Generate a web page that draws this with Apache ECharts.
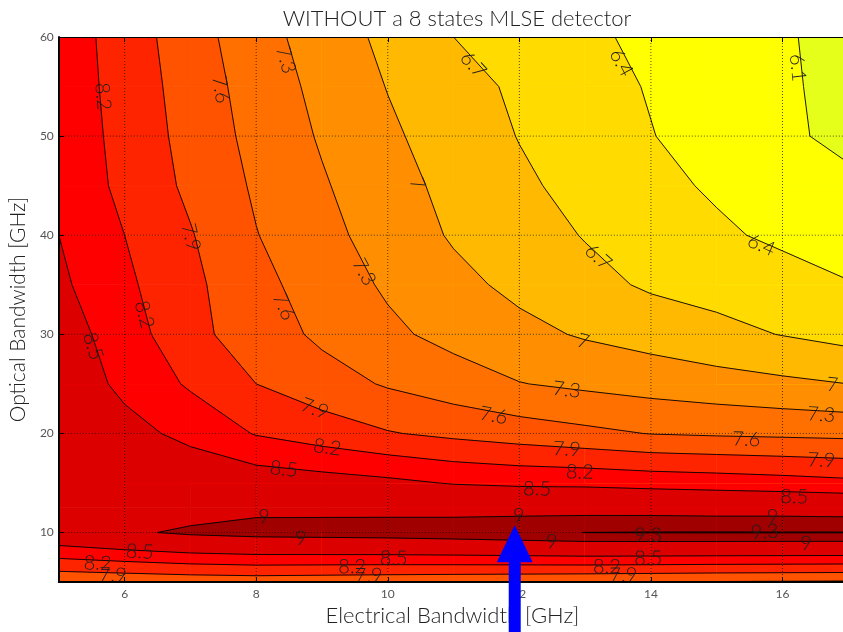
<!DOCTYPE html>
<html>
<head>
<meta charset="utf-8">
<script src="https://cdn.jsdelivr.net/npm/echarts@6.0.0/dist/echarts.min.js"></script>
<style>
  html, body { margin: 0; padding: 0; background: #fff; }
  #main { width: 843px; height: 632px; }
</style>
</head>
<body>
<div id="main"></div>
<script>
// measurement grid: electrical bandwidth (x) by optical bandwidth (y)
const xNodes = [5, 6, 7, 8, 9, 10, 11, 12, 13, 14, 15, 16, 17];
const yNodes = [5, 10, 12.5, 15, 20, 25, 30, 35, 40, 45, 50, 55, 60];

// values, one row per optical bandwidth
const zY5   = [7.65, 7.67, 7.70, 7.72, 7.70, 7.68, 7.66, 7.64, 7.62, 7.60, 7.58, 7.57, 7.56];
const zY10  = [8.80, 8.94, 9.06, 9.12, 9.14, 9.16, 9.20, 9.25, 9.302, 9.31, 9.312, 9.31, 9.31];
const zY125 = [8.83, 8.85, 8.84, 8.92, 8.91, 8.90, 8.875, 8.87, 8.865, 8.86, 8.84, 8.84, 8.82];
const zY15  = [8.85, 8.75, 8.72, 8.68, 8.63, 8.57, 8.48, 8.44, 8.43, 8.39, 8.36, 8.32, 8.27];
const zY20  = [8.80, 8.60, 8.42, 8.18, 8.05, 7.92, 7.83, 7.75, 7.67, 7.59, 7.56, 7.54, 7.52];
const zY25  = [8.71, 8.43, 8.16, 7.90, 7.73, 7.57, 7.44, 7.31, 7.24, 7.18, 7.12, 7.06, 7.00];
const zY30  = [8.65, 8.35, 7.98, 7.76, 7.54, 7.36, 7.21, 7.08, 6.97, 6.88, 6.78, 6.69, 6.60];
const zY35  = [8.56, 8.26, 7.97, 7.69, 7.46, 7.26, 7.08, 6.93, 6.79, 6.66, 6.60, 6.53, 6.42];
const zY40  = [8.50, 8.20, 7.92, 7.61, 7.39, 7.17, 6.97, 6.83, 6.685, 6.57, 6.45, 6.34, 6.22];
const zY45  = [8.43, 8.125, 7.84, 7.56, 7.33, 7.11, 6.92, 6.75, 6.61, 6.48, 6.36, 6.27, 6.16];
const zY50  = [8.41, 8.10, 7.80, 7.51, 7.27, 7.05, 6.86, 6.69, 6.55, 6.41, 6.28, 6.15, 6.03];
const zY55  = [8.39, 8.08, 7.77, 7.47, 7.22, 6.99, 6.81, 6.65, 6.51, 6.38, 6.26, 6.14, 6.015];
const zY60  = [8.38, 8.06, 7.73, 7.42, 7.16, 6.93, 6.70, 6.575, 6.45, 6.34, 6.23, 6.13, 6.005];
const zRows = [zY5, zY10, zY125, zY15, zY20, zY25, zY30, zY35, zY40, zY45, zY50, zY55, zY60];

const levels = [6.1, 6.4, 6.7, 7, 7.3, 7.6, 7.9, 8.2, 8.5, 9, 9.3];
const xTicks = [6, 8, 10, 12, 14, 16];
const yTicks = [10, 20, 30, 40, 50, 60];

// contour labels: [x, y, level]
const contourLabels = [
  [5.67, 54.0, 8.2], [7.46, 54.7, 7.6], [8.45, 57.7, 7.3], [11.30, 57.2, 6.7],
  [13.55, 57.4, 6.4], [16.23, 56.9, 6.1], [10.45, 45.2, 7], [7.01, 39.8, 7.9],
  [6.30, 32.0, 8.2], [5.52, 28.8, 8.5], [8.42, 32.8, 7.6], [9.64, 36.3, 7.3],
  [13.2, 37.8, 6.7], [15.68, 39.0, 6.4], [12.97, 29.3, 7], [12.72, 24.4, 7.3],
  [16.76, 24.9, 7], [16.59, 21.9, 7.3], [11.61, 21.8, 7.6], [15.45, 19.4, 7.6],
  [8.89, 22.5, 7.9], [12.72, 18.4, 7.9], [16.59, 17.3, 7.9], [9.08, 18.6, 8.2],
  [12.92, 16.1, 8.2], [8.42, 16.4, 8.5], [12.27, 14.4, 8.5], [16.18, 13.6, 8.5],
  [8.12, 11.6, 9], [11.99, 11.7, 9], [15.85, 11.6, 9], [8.68, 9.4, 9],
  [12.49, 9.06, 9], [16.36, 8.9, 9], [13.96, 9.73, 9.3], [15.73, 10.07, 9.3],
  [6.23, 8.06, 8.5], [10.09, 7.4, 8.5], [13.96, 7.4, 8.5], [5.59, 6.9, 8.2],
  [9.46, 6.55, 8.2], [13.33, 6.55, 8.2], [5.82, 5.7, 7.9], [9.71, 5.65, 7.9],
  [13.58, 5.7, 7.9]
];

const arrowTip = [11.93, 10.74];

const bandColors = ['#e5ff1a', '#ffff00', '#ffdb00', '#ffb900', '#ff8e00', '#ff7000',
  '#ff5300', '#ff2400', '#ff0000', '#dc0000', '#a00000', '#8c0000'];
const textFont = "Lato, 'Open Sans', 'DejaVu Sans', sans-serif";

// cells of the grid
const cells = [];
for (let j = 0; j < yNodes.length - 1; j++) {
  for (let i = 0; i < xNodes.length - 1; i++) {
    cells.push([xNodes[i], yNodes[j], i, j]);
  }
}

function cellCorners(api, i, j) {
  return [[i, j], [i + 1, j], [i + 1, j + 1], [i, j + 1]].map(function (ab) {
    const p = api.coord([xNodes[ab[0]], yNodes[ab[1]]]);
    return [p[0], p[1], zRows[ab[1]][ab[0]]];
  });
}

function clipAbove(poly, L) {
  const out = [];
  for (let k = 0; k < poly.length; k++) {
    const a = poly[k], b = poly[(k + 1) % poly.length];
    const ain = a[2] >= L, bin = b[2] >= L;
    if (ain) out.push(a);
    if (ain !== bin) {
      const t = (L - a[2]) / (b[2] - a[2]);
      out.push([a[0] + t * (b[0] - a[0]), a[1] + t * (b[1] - a[1]), L]);
    }
  }
  return out;
}

function levelSegments(c, L) {
  const st = c.map(function (p) { return p[2] >= L; });
  const pts = [];
  for (let k = 0; k < 4; k++) {
    const a = c[k], b = c[(k + 1) % 4];
    if (st[k] !== st[(k + 1) % 4]) {
      const t = (L - a[2]) / (b[2] - a[2]);
      pts.push([a[0] + t * (b[0] - a[0]), a[1] + t * (b[1] - a[1])]);
    }
  }
  if (pts.length === 2) return [[pts[0], pts[1]]];
  if (pts.length === 4) {
    return st[0] ? [[pts[0], pts[1]], [pts[2], pts[3]]] : [[pts[3], pts[0]], [pts[1], pts[2]]];
  }
  return [];
}

function findCell(arr, v) {
  for (let k = 0; k < arr.length - 2; k++) if (v < arr[k + 1]) return k;
  return arr.length - 2;
}

function zAt(x, y) {
  const i = findCell(xNodes, x), j = findCell(yNodes, y);
  const tx = (x - xNodes[i]) / (xNodes[i + 1] - xNodes[i]);
  const ty = (y - yNodes[j]) / (yNodes[j + 1] - yNodes[j]);
  const z00 = zRows[j][i], z10 = zRows[j][i + 1], z01 = zRows[j + 1][i], z11 = zRows[j + 1][i + 1];
  return (1 - ty) * ((1 - tx) * z00 + tx * z10) + ty * ((1 - tx) * z01 + tx * z11);
}

function renderFill(params, api) {
  const c = cellCorners(api, api.value(2), api.value(3));
  const zmin = Math.min(c[0][2], c[1][2], c[2][2], c[3][2]);
  let b0 = levels.filter(function (l) { return l <= zmin; }).length;
  const children = [];
  const poly2el = function (poly, color) {
    return {
      type: 'polygon',
      shape: { points: poly.map(function (p) { return [p[0], p[1]]; }) },
      style: { fill: color, stroke: color, lineWidth: 0.7 }
    };
  };
  children.push(poly2el(c, bandColors[b0]));
  let poly = c;
  for (let b = b0; b < levels.length; b++) {
    poly = clipAbove(poly, levels[b]);
    if (poly.length < 3) break;
    children.push(poly2el(poly, bandColors[b + 1]));
  }
  return { type: 'group', children: children };
}

function renderLines(params, api) {
  const c = cellCorners(api, api.value(2), api.value(3));
  const children = [];
  levels.forEach(function (L) {
    levelSegments(c, L).forEach(function (s) {
      children.push({
        type: 'line',
        shape: { x1: s[0][0], y1: s[0][1], x2: s[1][0], y2: s[1][1] },
        style: { stroke: '#000', lineWidth: 0.9 }
      });
    });
  });
  return { type: 'group', children: children };
}

function renderGridLines(params, api) {
  const cs = params.coordSys;
  const dir = api.value(1);
  const v = api.value(0);
  const style = { stroke: 'rgba(0,0,0,0.85)', lineWidth: 0.8, lineDash: [1, 2] };
  if (dir === 0) {
    const p = api.coord([v, 30]);
    return { type: 'line', shape: { x1: p[0], y1: cs.y, x2: p[0], y2: cs.y + cs.height }, style: style };
  }
  const p = api.coord([10, v]);
  return { type: 'line', shape: { x1: cs.x, y1: p[1], x2: cs.x + cs.width, y2: p[1] }, style: style };
}

function renderLabel(params, api) {
  const x = api.value(0), y = api.value(1), lv = api.value(2);
  const h = 0.05, k = 0.25;
  const p0 = api.coord([x, y]);
  const px = api.coord([x + h, y]);
  const py = api.coord([x, y + k]);
  const gx = (zAt(x + h, y) - zAt(x - h, y)) / (2 * (px[0] - p0[0]));
  const gy = (zAt(x, y + k) - zAt(x, y - k)) / (2 * (py[1] - p0[1]));
  let th = Math.atan2(gx, -gy);
  if (th > Math.PI / 2) th -= Math.PI;
  if (th <= -Math.PI / 2 + 1e-6) th += Math.PI;
  return {
    type: 'text',
    x: p0[0], y: p0[1],
    rotation: -th,
    style: {
      text: String(lv), fill: '#1e1e1e', fontSize: 20, fontWeight: 300,
      fontFamily: textFont, align: 'center', verticalAlign: 'middle'
    }
  };
}

const gridData = xTicks.map(function (v) { return [v, 0]; })
  .concat(yTicks.map(function (v) { return [v, 1]; }));

const chart = echarts.init(document.getElementById('main'), null, { renderer: 'canvas' });

chart.setOption({
  animation: false,
  backgroundColor: '#fff',
  title: {
    text: 'WITHOUT a 8 states MLSE detector',
    left: 452, top: 3, textAlign: 'center',
    textStyle: { fontSize: 22, fontWeight: 300, color: '#222', fontFamily: textFont }
  },
  grid: { left: 57, right: 0, top: 37, bottom: 46, containLabel: false },
  xAxis: [{
    type: 'value', min: 5, max: 16.92, position: 'bottom', z: 10,
    name: 'Electrical Bandwidth [GHz]', nameLocation: 'middle', nameGap: 21,
    nameTextStyle: { fontSize: 22, color: '#222', fontWeight: 300, fontFamily: textFont, padding: [0, 0, 0, 3] },
    axisLine: { show: true, onZero: false, lineStyle: { color: '#000', width: 2 } },
    axisTick: { show: true, inside: true, length: 5, customValues: xTicks, lineStyle: { color: '#000' } },
    axisLabel: { customValues: xTicks, color: '#555', fontSize: 12, margin: 6, fontFamily: textFont },
    splitLine: { show: false }
  }, {
    type: 'value', min: 5, max: 16.92, position: 'top', z: 10,
    axisLine: { show: true, onZero: false, lineStyle: { color: '#000', width: 1.2 } },
    axisTick: { show: true, inside: true, length: 5, customValues: xTicks, lineStyle: { color: '#000' } },
    axisLabel: { show: false },
    splitLine: { show: false }
  }],
  yAxis: {
    type: 'value', min: 5, max: 60, z: 10,
    name: 'Optical Bandwidth [GHz]', nameLocation: 'middle', nameGap: 24, nameRotate: 90,
    nameTextStyle: { fontSize: 21, color: '#222', fontWeight: 300, fontFamily: textFont },
    axisLine: { show: true, onZero: false, lineStyle: { color: '#000', width: 2 } },
    axisTick: { show: true, inside: true, length: 5, customValues: yTicks, lineStyle: { color: '#000' } },
    axisLabel: { customValues: yTicks, color: '#555', fontSize: 12, margin: 5, fontFamily: textFont },
    splitLine: { show: false }
  },
  series: [{
    type: 'custom', name: 'fill', renderItem: renderFill, data: cells,
    encode: { x: 0, y: 1 }, clip: true, z: 1, silent: true
  }, {
    type: 'custom', name: 'grid', renderItem: renderGridLines, data: gridData,
    clip: true, z: 2, silent: true
  }, {
    type: 'custom', name: 'contours', renderItem: renderLines, data: cells,
    encode: { x: 0, y: 1 }, clip: true, z: 3, silent: true
  }, {
    type: 'custom', name: 'labels', renderItem: renderLabel, data: contourLabels,
    encode: { x: 0, y: 1 }, z: 4, silent: true
  }]
});

const tip = chart.convertToPixel({ xAxisIndex: 0, yAxisIndex: 0 }, arrowTip);
chart.setOption({
  graphic: [{
    type: 'polygon', z: 100,
    shape: { points: [
      [tip[0], tip[1]], [tip[0] + 18, tip[1] + 37], [tip[0] + 6, tip[1] + 37],
      [tip[0] + 6, 632], [tip[0] - 6, 632], [tip[0] - 6, tip[1] + 37], [tip[0] - 18, tip[1] + 37]
    ] },
    style: { fill: '#0000ff' }
  }]
});
</script>
</body>
</html>
